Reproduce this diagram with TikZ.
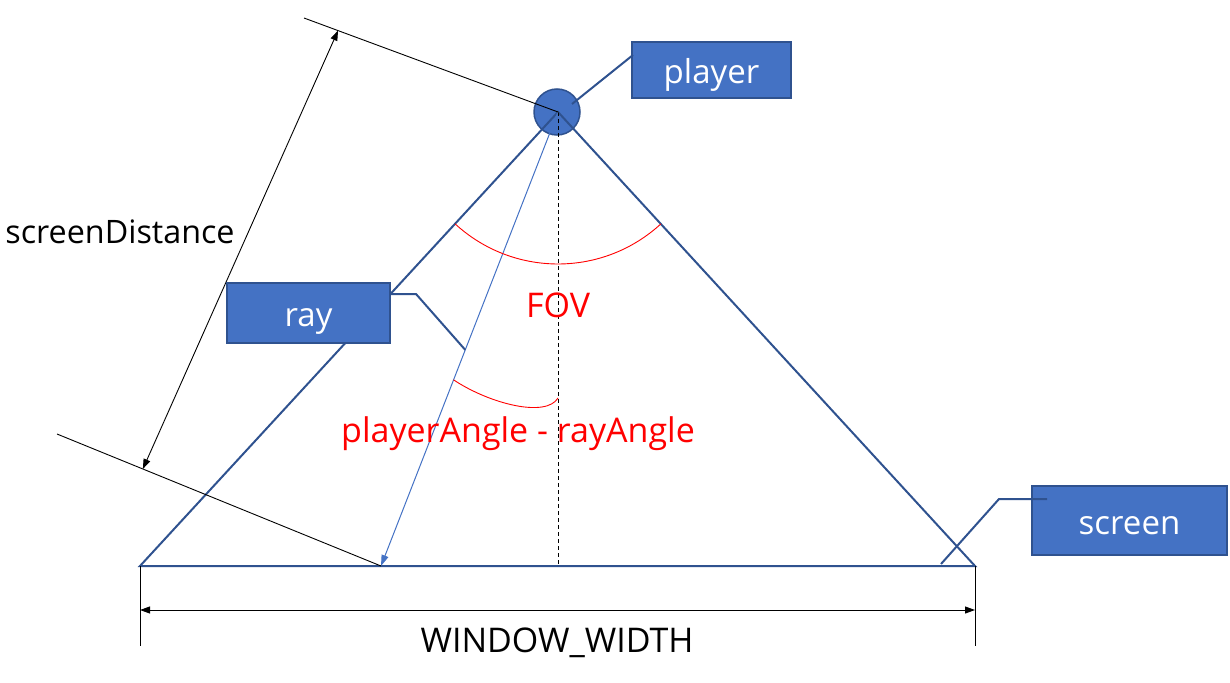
\documentclass[tikz,border=0pt]{standalone}
\usepackage{fontspec}
\setmainfont{Open Sans}
\usetikzlibrary{arrows.meta,calc}
\definecolor{boxfill}{HTML}{4472C4}
\definecolor{boxline}{HTML}{2F528F}
\definecolor{rayblue}{HTML}{4472C4}
\begin{document}
\begin{tikzpicture}[x=1pt,y=-1pt,
  txt/.style={font=\fontsize{34}{40}\selectfont, inner sep=0pt},
  lbox/.style={draw=boxline, line width=1.5pt, fill=boxfill, text=white,
     font=\fontsize{33}{40}\selectfont, inner sep=0pt, text height=27pt, text depth=0pt},
  frame/.style={draw=boxline, line width=2pt},
  thinblack/.style={draw=black, line width=0.9pt},
  dimarrow/.style={thinblack, {Triangle[length=10pt,width=7pt]}-{Triangle[length=10pt,width=7pt]}},
  redarc/.style={draw=red, line width=0.9pt},
  redtxt/.style={txt, text=red}
]
\useasboundingbox (0,0) rectangle (1230,682);
% key points
\coordinate (A) at (558,112);
\coordinate (BL) at (140,566);
\coordinate (BR) at (975,566);
\coordinate (R) at (381,566);
\coordinate (D) at (558,566);
\coordinate (E1) at (304,18);
\coordinate (E2) at (57,434);
% player circle
\node[circle, fill=boxfill, draw=boxline, line width=1.5pt, minimum size=46, inner sep=0pt] (pc) at (557,112) {};
% triangle and screen
\draw[frame] (BL) -- (A) -- (BR) -- cycle;
% dashed centre line
\draw[thinblack, dash pattern=on 4pt off 3pt] (A) -- (D);
% ray
\draw[draw=rayblue, line width=1pt, -{Triangle[length=11pt,width=7pt]}] (A) -- (R);
% screenDistance dimension
\draw[thinblack] (E1) -- (A);
\draw[thinblack] (E2) -- (R);
\coordinate (d1) at ($(E1)!0.134!(A)$);
\coordinate (d2) at ($(E2)!0.265!(R)$);
\draw[dimarrow] (d1) -- (d2);
\node[txt, font=\fontsize{32.3}{38}\selectfont] (sd) at (120,232) {screenDistance};
% WINDOW_WIDTH dimension
\coordinate (w1) at (140,646);
\coordinate (w2) at (975,646);
\draw[thinblack] (BL) -- (w1);
\draw[thinblack] (BR) -- (w2);
\coordinate (wa) at (140,610);
\coordinate (wb) at (975,610);
\draw[dimarrow] (wa) -- (wb);
\node[txt] (ww) at (557,643) {WINDOW\_WIDTH};
% FOV arc
\draw[redarc] (A) ++(132.6:152) arc[start angle=132.6, end angle=47.4, radius=152];
\node[redtxt] (fov) at (558,305) {FOV};
% angle arc
\coordinate (a1) at ($(A)!0.590!(R)$);
\coordinate (a2) at (558,398);
\draw[redarc] (a1) .. controls (490,404) and (546,418) .. (a2);
\node[redtxt] (pa) at (518,434) {playerAngle - rayAngle};
% label boxes
\node[lbox, minimum width=159, minimum height=56] (player) at (711.5,70) {player};
\node[lbox, minimum width=163, minimum height=60] (ray) at (308.5,313) {ray};
\node[lbox, minimum width=195, minimum height=69] (screen) at (1129.5,520.5) {screen};
% connectors
\coordinate (pcx) at (572,104);
\coordinate (plx) at (633,55);
\draw[frame] (plx) -- (pcx);
\coordinate (rk) at (416,294);
\coordinate (rp) at ($(A)!0.524!(R)$);
\draw[frame] (ray.east |- rk) -- (rk) -- (rp);
\coordinate (sk1) at (1047,499);
\coordinate (sk2) at (999,499);
\coordinate (sk3) at (941,564);
\draw[frame] (sk1) -- (sk2) -- (sk3);
\end{tikzpicture}
\end{document}
